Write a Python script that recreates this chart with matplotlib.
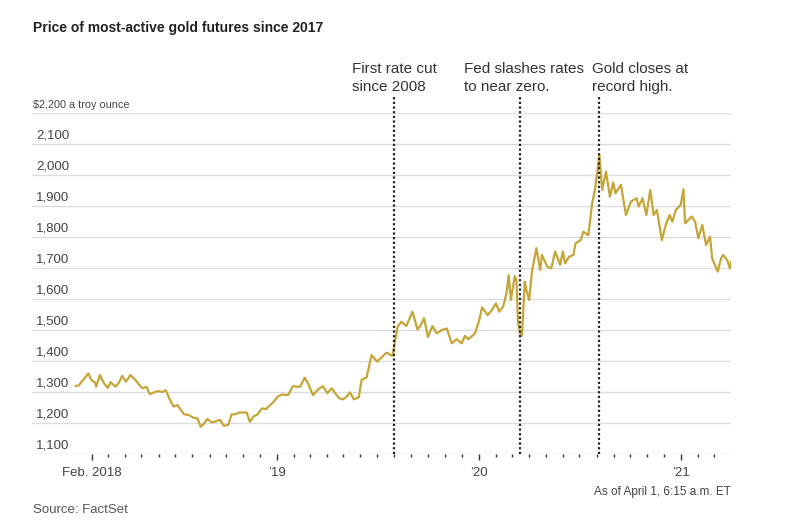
import matplotlib
matplotlib.use("Agg")
import matplotlib.pyplot as plt
import pandas as pd

# gold futures, $ per troy ounce
dates = [
    "2018-01-02", "2018-01-08", "2018-01-15", "2018-01-25", "2018-01-30", "2018-02-06", "2018-02-08",
    "2018-02-15", "2018-02-22", "2018-03-01", "2018-03-06", "2018-03-15", "2018-03-21", "2018-03-27",
    "2018-04-03", "2018-04-11", "2018-04-20", "2018-04-27", "2018-05-03", "2018-05-10", "2018-05-16",
    "2018-05-25", "2018-06-01", "2018-06-08", "2018-06-14", "2018-06-20", "2018-06-28", "2018-07-05",
    "2018-07-12", "2018-07-17", "2018-07-25", "2018-08-03", "2018-08-10", "2018-08-16", "2018-08-21",
    "2018-08-28", "2018-09-05", "2018-09-12", "2018-09-20", "2018-09-27", "2018-10-05", "2018-10-11",
    "2018-10-18", "2018-10-25", "2018-11-07", "2018-11-13", "2018-11-20", "2018-11-26", "2018-12-05",
    "2018-12-12", "2018-12-17", "2018-12-26",
    "2019-01-02", "2019-01-10", "2019-01-21", "2019-01-30", "2019-02-06", "2019-02-12", "2019-02-20",
    "2019-02-26", "2019-03-07", "2019-03-15", "2019-03-25", "2019-04-02", "2019-04-10", "2019-04-23",
    "2019-04-30", "2019-05-07", "2019-05-13", "2019-05-20", "2019-05-29", "2019-06-03", "2019-06-12",
    "2019-06-21", "2019-07-01", "2019-07-09", "2019-07-18", "2019-07-29", "2019-08-07", "2019-08-14",
    "2019-08-23", "2019-09-03", "2019-09-12", "2019-09-18", "2019-09-24", "2019-10-01", "2019-10-09",
    "2019-10-17", "2019-10-26", "2019-11-04", "2019-11-13", "2019-11-22", "2019-12-01", "2019-12-07",
    "2019-12-13", "2019-12-25",
    "2020-01-01", "2020-01-07", "2020-01-17", "2020-01-25", "2020-02-01", "2020-02-07", "2020-02-14",
    "2020-02-20", "2020-02-24", "2020-02-28", "2020-03-06", "2020-03-09", "2020-03-12", "2020-03-16",
    "2020-03-19", "2020-03-24", "2020-03-27", "2020-04-01", "2020-04-06", "2020-04-14", "2020-04-21",
    "2020-04-24", "2020-05-04", "2020-05-11", "2020-05-18", "2020-05-27", "2020-06-01", "2020-06-05",
    "2020-06-12", "2020-06-20", "2020-06-24", "2020-07-03", "2020-07-08", "2020-07-17", "2020-07-24",
    "2020-07-29", "2020-08-06", "2020-08-11", "2020-08-18", "2020-08-25", "2020-08-31", "2020-09-04",
    "2020-09-14", "2020-09-23", "2020-10-02", "2020-10-12", "2020-10-16", "2020-10-23", "2020-10-30",
    "2020-11-06", "2020-11-12", "2020-11-18", "2020-11-27", "2020-12-04", "2020-12-11", "2020-12-16",
    "2020-12-22", "2020-12-31",
    "2021-01-05", "2021-01-08", "2021-01-14", "2021-01-20", "2021-01-26", "2021-02-01", "2021-02-08",
    "2021-02-15", "2021-02-22", "2021-02-26", "2021-03-08", "2021-03-14", "2021-03-18", "2021-03-25",
    "2021-03-30", "2021-04-01",
]
prices = [
    1319, 1322, 1338, 1360, 1340, 1330, 1317,
    1355, 1329, 1313, 1332, 1317, 1330, 1352,
    1333, 1355, 1339, 1323, 1312, 1317, 1293,
    1300, 1303, 1300, 1306, 1280, 1253, 1258,
    1240, 1228, 1226, 1217, 1215, 1188, 1196,
    1213, 1202, 1205, 1210, 1191, 1194, 1228,
    1228, 1234, 1234, 1204, 1222, 1226, 1247,
    1245, 1253, 1268,
    1285, 1292, 1290, 1319, 1317, 1317, 1346,
    1328, 1290, 1306, 1319, 1296, 1312, 1280,
    1276, 1285, 1299, 1276, 1283, 1339, 1347,
    1419, 1398, 1412, 1427, 1416, 1511, 1527,
    1513, 1559, 1502, 1515, 1538, 1477, 1513,
    1489, 1500, 1505, 1457, 1470, 1457, 1481,
    1470, 1489,
    1527, 1573, 1548, 1565, 1586, 1559, 1576,
    1618, 1677, 1597, 1674, 1661, 1522, 1490,
    1481, 1656, 1629, 1597, 1688, 1764, 1694,
    1742, 1704, 1699, 1753, 1710, 1753, 1715,
    1736, 1742, 1780, 1790, 1817, 1806, 1909,
    1952, 2065, 1952, 2011, 1930, 1976, 1941,
    1968, 1871, 1914, 1925, 1898, 1925, 1871,
    1952, 1871, 1887, 1790, 1839, 1871, 1849,
    1887, 1903,
    1954, 1844, 1855, 1866, 1850, 1796, 1839,
    1774, 1801, 1731, 1688, 1731, 1742, 1726,
    1699, 1720,
]

event_dates = ["2019-07-31", "2020-03-15", "2020-08-06"]
event_labels = ["First rate cut\nsince 2008", "Fed slashes rates\nto near zero.", "Gold closes at\nrecord high."]
event_offsets = [-30, -40, -5]

y_ticks = [1100, 1200, 1300, 1400, 1500, 1600, 1700, 1800, 1900, 2000, 2100, 2200]
x_labels = {"2018-02-01": "Feb. 2018", "2019-01-01": "\u201919", "2020-01-01": "\u201920", "2021-01-01": "\u201921"}

plt.rcParams["font.family"] = ["Liberation Sans", "DejaVu Sans"]

gold = "#C6A537"
text_col = "#333333"

fig = plt.figure(figsize=(8.07, 5.21), dpi=100)
ax = fig.add_axes([32 / 807, 1 - 454 / 521, 699 / 807, 341 / 521])

x = pd.to_datetime(dates)
ax.plot(x, prices, color=gold, lw=1.6, solid_joinstyle="round", zorder=3)

ax.set_ylim(1100, 2200)
ax.set_xlim(pd.Timestamp("2017-10-15"), pd.Timestamp("2021-04-01"))

# gridlines and y labels sitting on top of them
for v in y_ticks:
    ax.axhline(v, color="#dddddd", lw=1, zorder=1)
    lab = f"{v:,}" if v != 2200 else "$2,200 a troy ounce"
    size = 9.5 if v != 2200 else 7.8
    ax.annotate(lab, xy=(0, v), xycoords=("axes fraction", "data"),
                xytext=(1 if v == 2200 else 3, 2), textcoords="offset points",
                ha="left", va="bottom", fontsize=size, color="#444444")

for s in ax.spines.values():
    s.set_visible(False)
ax.set_yticks([])

# monthly ticks, year ticks a bit longer
months = pd.date_range("2018-02-01", "2021-03-01", freq="MS")
ax.set_xticks(months, minor=True)
ax.tick_params(axis="x", which="minor", length=2.5, width=1, color="#333333")
major = pd.to_datetime(list(x_labels.keys()))
ax.set_xticks(major)
ax.set_xticklabels(list(x_labels.values()), fontsize=9.5, color="#444444")
ax.tick_params(axis="x", which="major", length=4, width=1, color="#333333", pad=5)

# event lines + notes
for d, lab, off in zip(event_dates, event_labels, event_offsets):
    dt = pd.Timestamp(d)
    ax.vlines(dt, 1100, 2252, colors="#222222", lw=1.6, linestyles=(0, (1, 1.1)),
              clip_on=False, zorder=4)
    ax.annotate(lab, xy=(dt, 1), xycoords=("data", "axes fraction"),
                xytext=(off, 37), textcoords="offset points",
                ha="left", va="top", fontsize=11, color=text_col, linespacing=1.4)

fig.text(33 / 807, 1 - 28 / 521, "Price of most-active gold futures since 2017",
         fontsize=10, fontweight="bold", color="#222222", va="center", ha="left")
fig.text(731 / 807, 1 - 492 / 521, "As of April 1, 6:15 a.m. ET",
         fontsize=8.5, color="#444444", va="center", ha="right")
fig.text(33 / 807, 1 - 510 / 521, "Source: FactSet",
         fontsize=9.5, color="#555555", va="center", ha="left")

fig.savefig("out.png", dpi=100)
